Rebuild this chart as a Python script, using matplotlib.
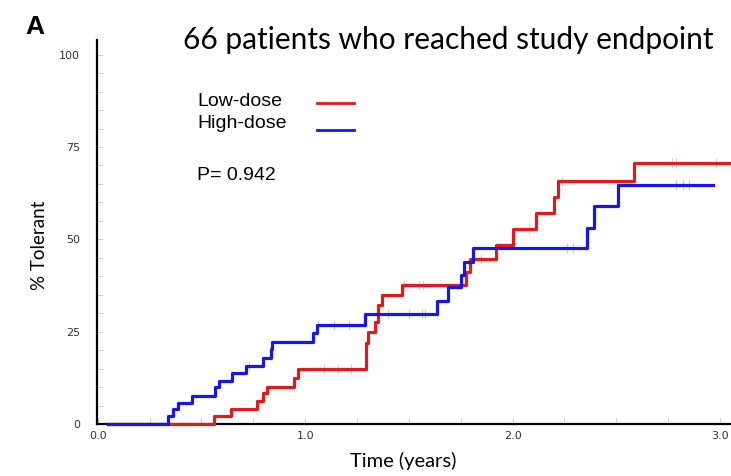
import matplotlib
matplotlib.use("Agg")
import matplotlib.pyplot as plt
from matplotlib.lines import Line2D
from matplotlib.ticker import MultipleLocator

# Kaplan-Meier style cumulative tolerance (%)
low_t = [0.05, 0.559, 0.644, 0.769, 0.797, 0.817, 0.945, 0.965, 1.293, 1.305,
         1.337, 1.352, 1.369, 1.465, 1.774, 1.795, 1.918, 2.003, 2.111, 2.199,
         2.218, 2.587, 3.06]
low_v = [0, 2.2, 4.0, 6.1, 8.3, 10.1, 12.4, 14.8, 21.9, 24.8,
         27.5, 32.2, 34.8, 37.7, 41.1, 44.7, 48.6, 52.7, 57.1, 61.4,
         65.9, 70.6, 70.6]

high_t = [0.05, 0.337, 0.364, 0.388, 0.452, 0.567, 0.583, 0.647, 0.716, 0.797,
          0.833, 0.84, 1.037, 1.055, 1.29, 1.635, 1.689, 1.75, 1.766, 1.811,
          2.359, 2.394, 2.506, 2.965]
high_v = [0, 2.2, 4.0, 5.8, 7.7, 9.9, 11.7, 13.7, 15.7, 17.8,
          20.2, 22.3, 24.6, 26.9, 29.7, 33.2, 37.0, 40.4, 43.8, 47.6,
          53.1, 58.9, 64.8, 64.8]

# censor marks (time, value)
low_cens_t = [1.09, 1.16, 1.22, 1.475, 1.55, 1.57, 1.85, 2.08, 2.24, 2.77, 2.79, 2.98]
low_cens_v = [14.8, 14.8, 14.8, 37.7, 37.7, 37.7, 44.7, 52.7, 65.9, 70.6, 70.6, 70.6]
high_cens_t = [0.73, 1.06, 1.14, 1.21, 1.40, 1.50, 1.565, 1.58, 2.26, 2.29, 2.79, 2.82, 2.85]
high_cens_v = [15.7, 26.9, 26.9, 26.9, 29.7, 29.7, 29.7, 29.7, 47.6, 47.6, 64.8, 64.8, 64.8]

series = ['Low-dose', 'High-dose']
red = '#e01b1b'
blue = '#1616e8'

W, H = 731, 476
fig = plt.figure(figsize=(W / 100, H / 100), dpi=100)
ax = fig.add_axes([0.1323, 0.1092, 0.8677, 0.807])

ax.plot(low_cens_t, low_cens_v, ls='none', marker='|', ms=7, color='#f3c4c4', mew=0.8)
ax.plot(high_cens_t, high_cens_v, ls='none', marker='|', ms=7, color='#c4c8f0', mew=0.8)
ax.step(low_t, low_v, where='post', color=red, lw=2.3, clip_on=False, zorder=5)
ax.step(high_t, high_v, where='post', color=blue, lw=2.3, clip_on=False, zorder=6)

ax.set_xlim(-0.005, 3.053)
ax.set_ylim(0, 104)

for s in ['top', 'right']:
    ax.spines[s].set_visible(False)
ax.spines['left'].set_linewidth(1.6)
ax.spines['bottom'].set_linewidth(1.6)

ax.set_yticks([0, 25, 50, 75, 100])
ax.set_xticks([0, 1, 2, 3])
ax.set_xticklabels(['0.0', '1.0', '2.0', '3.0'])
ax.yaxis.set_minor_locator(MultipleLocator(5))
ax.xaxis.set_minor_locator(MultipleLocator(0.25))
ax.tick_params(which='both', direction='in', color='#cccccc', width=0.7)
ax.tick_params(which='major', length=4, labelsize=8, labelcolor='#333333')
ax.tick_params(axis='y', which='major', pad=12)
ax.tick_params(axis='x', which='major', pad=5)
ax.tick_params(which='minor', length=4)

ax.set_ylabel('% Tolerant', fontsize=13.5, family='Lato')
ax.yaxis.set_label_coords((40 - 97) / (W * 0.8677), (424 - 245) / (H * 0.807))
ax.set_xlabel('Time (years)', fontsize=14.5, family='Lato')
ax.xaxis.set_label_coords((403 - 97) / (W * 0.8677), (424 - 461) / (H * 0.807))
ax.xaxis.label.set_va('center')
ax.yaxis.label.set_va('center')

# legend, drawn by hand: text on the left, sample line on the right
for name, col, ty, ly in [(series[0], red, 101, 103), (series[1], blue, 124, 130)]:
    fig.text(197 / W, 1 - ty / H, name, fontsize=14, family='Liberation Sans',
             va='center', ha='left')
    fig.add_artist(Line2D([317 / W, 354 / W], [1 - ly / H, 1 - ly / H],
                          color=col, lw=2.0, transform=fig.transFigure))

fig.text(197 / W, 1 - 176 / H, 'P= 0.942', fontsize=14, family='Liberation Sans',
         va='center', ha='left')
fig.text(183 / W, 1 - 40 / H, '66 patients who reached study endpoint',
         fontsize=21.5, family='Lato', va='center', ha='left')
fig.text(25 / W, 1 - 27 / H, 'A', fontsize=19, weight='bold',
         family='Liberation Sans', va='center', ha='left')

fig.savefig('out.png', dpi=100)
